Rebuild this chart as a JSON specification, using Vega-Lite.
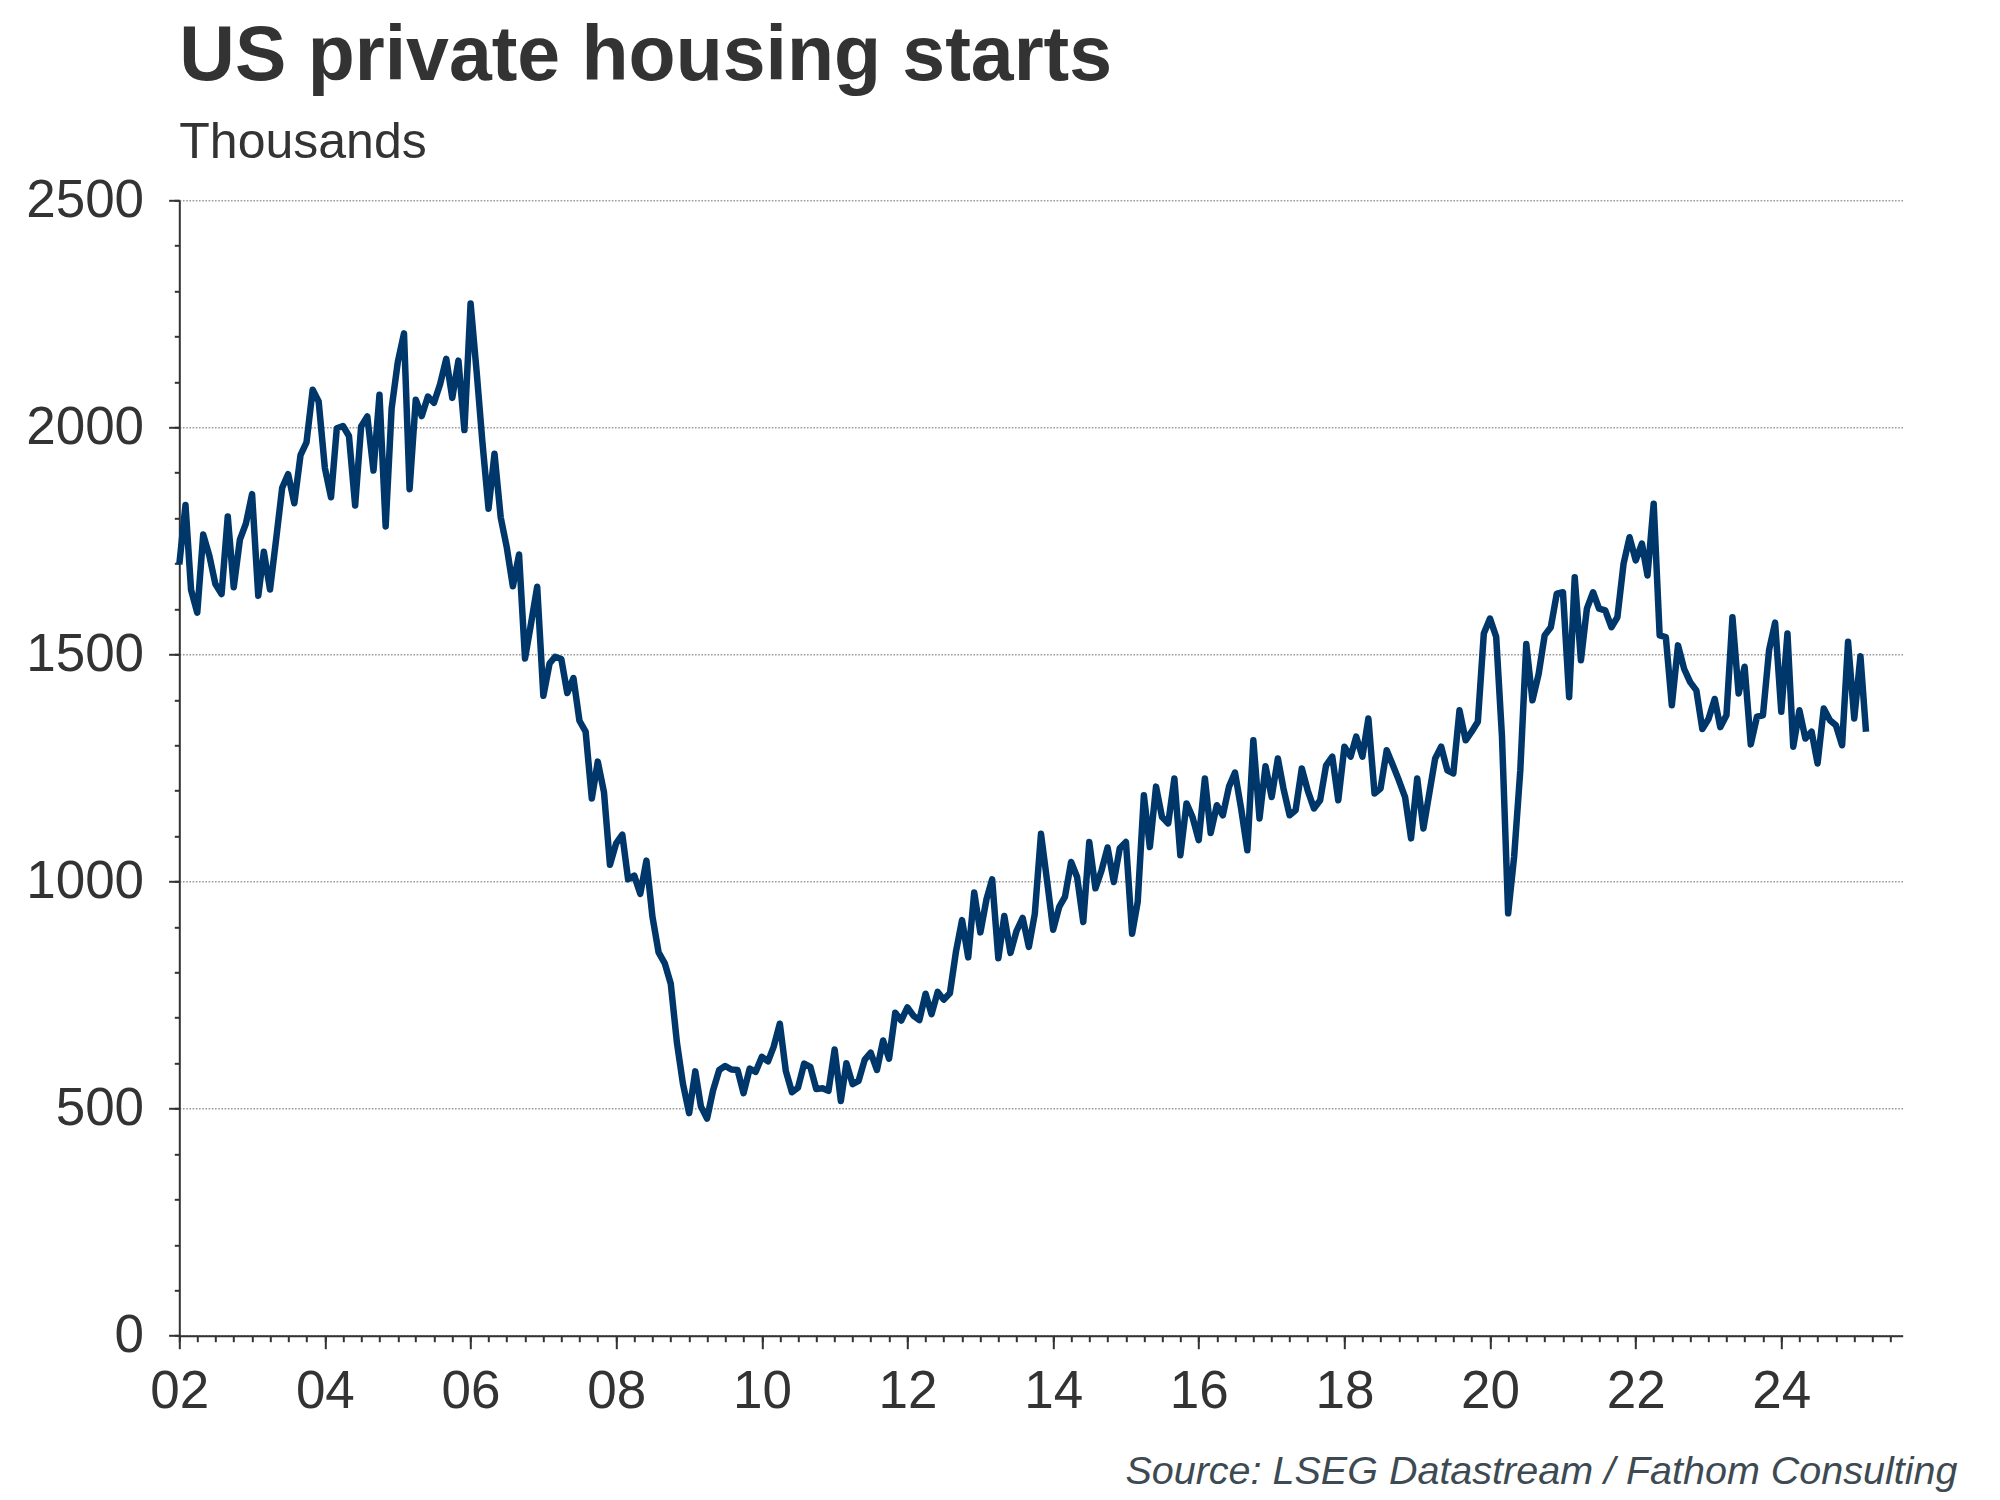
{
  "$schema": "https://vega.github.io/schema/vega-lite/v6.json",
  "width": 1723.4,
  "height": 1135.4,
  "autosize": {"type": "none"},
  "padding": {"left": 179.3, "top": 200.3, "right": 97.3, "bottom": 164.3},
  "background": "#ffffff",
  "config": {
    "view": {"stroke": null},
    "font": "Liberation Sans",
    "axis": {"labelFont": "Liberation Sans", "titleFont": "Liberation Sans", "domainColor": "#333333", "tickColor": "#333333", "labelColor": "#333333", "domainWidth": 2, "tickWidth": 2}
  },
  "title": {"text": "US private housing starts", "subtitle": "Thousands", "anchor": "start", "frame": "group", "orient": "top", "font": "Liberation Sans", "fontSize": 77, "fontWeight": "bold", "color": "#333333", "subtitleFont": "Liberation Sans", "subtitleFontSize": 50, "subtitleColor": "#333333", "subtitlePadding": 22, "offset": 5},
  "data": {"values": [
{"date":"2002-01-01","starts":1698},{"date":"2002-02-01","starts":1829},{"date":"2002-03-01","starts":1642},{"date":"2002-04-01","starts":1592},{"date":"2002-05-01","starts":1764},{"date":"2002-06-01","starts":1717},{"date":"2002-07-01","starts":1655},{"date":"2002-08-01","starts":1633},{"date":"2002-09-01","starts":1804},{"date":"2002-10-01","starts":1648},{"date":"2002-11-01","starts":1753},{"date":"2002-12-01","starts":1788},
{"date":"2003-01-01","starts":1853},{"date":"2003-02-01","starts":1629},{"date":"2003-03-01","starts":1726},{"date":"2003-04-01","starts":1643},{"date":"2003-05-01","starts":1751},{"date":"2003-06-01","starts":1867},{"date":"2003-07-01","starts":1897},{"date":"2003-08-01","starts":1833},{"date":"2003-09-01","starts":1939},{"date":"2003-10-01","starts":1967},{"date":"2003-11-01","starts":2083},{"date":"2003-12-01","starts":2057},
{"date":"2004-01-01","starts":1911},{"date":"2004-02-01","starts":1846},{"date":"2004-03-01","starts":1998},{"date":"2004-04-01","starts":2003},{"date":"2004-05-01","starts":1981},{"date":"2004-06-01","starts":1828},{"date":"2004-07-01","starts":2002},{"date":"2004-08-01","starts":2024},{"date":"2004-09-01","starts":1905},{"date":"2004-10-01","starts":2072},{"date":"2004-11-01","starts":1782},{"date":"2004-12-01","starts":2042},
{"date":"2005-01-01","starts":2144},{"date":"2005-02-01","starts":2207},{"date":"2005-03-01","starts":1864},{"date":"2005-04-01","starts":2061},{"date":"2005-05-01","starts":2025},{"date":"2005-06-01","starts":2068},{"date":"2005-07-01","starts":2054},{"date":"2005-08-01","starts":2095},{"date":"2005-09-01","starts":2151},{"date":"2005-10-01","starts":2065},{"date":"2005-11-01","starts":2147},{"date":"2005-12-01","starts":1994},
{"date":"2006-01-01","starts":2273},{"date":"2006-02-01","starts":2119},{"date":"2006-03-01","starts":1969},{"date":"2006-04-01","starts":1821},{"date":"2006-05-01","starts":1942},{"date":"2006-06-01","starts":1802},{"date":"2006-07-01","starts":1737},{"date":"2006-08-01","starts":1650},{"date":"2006-09-01","starts":1720},{"date":"2006-10-01","starts":1491},{"date":"2006-11-01","starts":1570},{"date":"2006-12-01","starts":1649},
{"date":"2007-01-01","starts":1409},{"date":"2007-02-01","starts":1480},{"date":"2007-03-01","starts":1495},{"date":"2007-04-01","starts":1490},{"date":"2007-05-01","starts":1415},{"date":"2007-06-01","starts":1448},{"date":"2007-07-01","starts":1354},{"date":"2007-08-01","starts":1330},{"date":"2007-09-01","starts":1183},{"date":"2007-10-01","starts":1264},{"date":"2007-11-01","starts":1197},{"date":"2007-12-01","starts":1037},
{"date":"2008-01-01","starts":1084},{"date":"2008-02-01","starts":1103},{"date":"2008-03-01","starts":1005},{"date":"2008-04-01","starts":1013},{"date":"2008-05-01","starts":973},{"date":"2008-06-01","starts":1046},{"date":"2008-07-01","starts":923},{"date":"2008-08-01","starts":844},{"date":"2008-09-01","starts":820},{"date":"2008-10-01","starts":775},{"date":"2008-11-01","starts":645},{"date":"2008-12-01","starts":555},
{"date":"2009-01-01","starts":490},{"date":"2009-02-01","starts":582},{"date":"2009-03-01","starts":505},{"date":"2009-04-01","starts":478},{"date":"2009-05-01","starts":540},{"date":"2009-06-01","starts":585},{"date":"2009-07-01","starts":594},{"date":"2009-08-01","starts":586},{"date":"2009-09-01","starts":585},{"date":"2009-10-01","starts":534},{"date":"2009-11-01","starts":588},{"date":"2009-12-01","starts":581},
{"date":"2010-01-01","starts":614},{"date":"2010-02-01","starts":604},{"date":"2010-03-01","starts":636},{"date":"2010-04-01","starts":687},{"date":"2010-05-01","starts":583},{"date":"2010-06-01","starts":536},{"date":"2010-07-01","starts":546},{"date":"2010-08-01","starts":599},{"date":"2010-09-01","starts":592},{"date":"2010-10-01","starts":543},{"date":"2010-11-01","starts":545},{"date":"2010-12-01","starts":539},
{"date":"2011-01-01","starts":630},{"date":"2011-02-01","starts":517},{"date":"2011-03-01","starts":600},{"date":"2011-04-01","starts":554},{"date":"2011-05-01","starts":561},{"date":"2011-06-01","starts":608},{"date":"2011-07-01","starts":623},{"date":"2011-08-01","starts":585},{"date":"2011-09-01","starts":650},{"date":"2011-10-01","starts":610},{"date":"2011-11-01","starts":711},{"date":"2011-12-01","starts":694},
{"date":"2012-01-01","starts":723},{"date":"2012-02-01","starts":704},{"date":"2012-03-01","starts":695},{"date":"2012-04-01","starts":753},{"date":"2012-05-01","starts":708},{"date":"2012-06-01","starts":757},{"date":"2012-07-01","starts":740},{"date":"2012-08-01","starts":754},{"date":"2012-09-01","starts":847},{"date":"2012-10-01","starts":915},{"date":"2012-11-01","starts":833},{"date":"2012-12-01","starts":976},
{"date":"2013-01-01","starts":888},{"date":"2013-02-01","starts":962},{"date":"2013-03-01","starts":1005},{"date":"2013-04-01","starts":831},{"date":"2013-05-01","starts":924},{"date":"2013-06-01","starts":843},{"date":"2013-07-01","starts":891},{"date":"2013-08-01","starts":920},{"date":"2013-09-01","starts":856},{"date":"2013-10-01","starts":929},{"date":"2013-11-01","starts":1105},{"date":"2013-12-01","starts":1003},
{"date":"2014-01-01","starts":894},{"date":"2014-02-01","starts":945},{"date":"2014-03-01","starts":966},{"date":"2014-04-01","starts":1043},{"date":"2014-05-01","starts":1010},{"date":"2014-06-01","starts":911},{"date":"2014-07-01","starts":1087},{"date":"2014-08-01","starts":985},{"date":"2014-09-01","starts":1025},{"date":"2014-10-01","starts":1075},{"date":"2014-11-01","starts":999},{"date":"2014-12-01","starts":1073},
{"date":"2015-01-01","starts":1087},{"date":"2015-02-01","starts":885},{"date":"2015-03-01","starts":955},{"date":"2015-04-01","starts":1190},{"date":"2015-05-01","starts":1076},{"date":"2015-06-01","starts":1209},{"date":"2015-07-01","starts":1142},{"date":"2015-08-01","starts":1128},{"date":"2015-09-01","starts":1227},{"date":"2015-10-01","starts":1058},{"date":"2015-11-01","starts":1172},{"date":"2015-12-01","starts":1142},
{"date":"2016-01-01","starts":1091},{"date":"2016-02-01","starts":1227},{"date":"2016-03-01","starts":1107},{"date":"2016-04-01","starts":1168},{"date":"2016-05-01","starts":1146},{"date":"2016-06-01","starts":1209},{"date":"2016-07-01","starts":1240},{"date":"2016-08-01","starts":1160},{"date":"2016-09-01","starts":1069},{"date":"2016-10-01","starts":1311},{"date":"2016-11-01","starts":1139},{"date":"2016-12-01","starts":1254},
{"date":"2017-01-01","starts":1186},{"date":"2017-02-01","starts":1271},{"date":"2017-03-01","starts":1205},{"date":"2017-04-01","starts":1146},{"date":"2017-05-01","starts":1157},{"date":"2017-06-01","starts":1249},{"date":"2017-07-01","starts":1200},{"date":"2017-08-01","starts":1161},{"date":"2017-09-01","starts":1179},{"date":"2017-10-01","starts":1256},{"date":"2017-11-01","starts":1275},{"date":"2017-12-01","starts":1179},
{"date":"2018-01-01","starts":1297},{"date":"2018-02-01","starts":1275},{"date":"2018-03-01","starts":1319},{"date":"2018-04-01","starts":1275},{"date":"2018-05-01","starts":1359},{"date":"2018-06-01","starts":1194},{"date":"2018-07-01","starts":1205},{"date":"2018-08-01","starts":1289},{"date":"2018-09-01","starts":1256},{"date":"2018-10-01","starts":1223},{"date":"2018-11-01","starts":1186},{"date":"2018-12-01","starts":1095},
{"date":"2019-01-01","starts":1227},{"date":"2019-02-01","starts":1117},{"date":"2019-03-01","starts":1190},{"date":"2019-04-01","starts":1271},{"date":"2019-05-01","starts":1297},{"date":"2019-06-01","starts":1245},{"date":"2019-07-01","starts":1238},{"date":"2019-08-01","starts":1377},{"date":"2019-09-01","starts":1311},{"date":"2019-10-01","starts":1330},{"date":"2019-11-01","starts":1352},{"date":"2019-12-01","starts":1546},
{"date":"2020-01-01","starts":1579},{"date":"2020-02-01","starts":1539},{"date":"2020-03-01","starts":1320},{"date":"2020-04-01","starts":930},{"date":"2020-05-01","starts":1054},{"date":"2020-06-01","starts":1245},{"date":"2020-07-01","starts":1523},{"date":"2020-08-01","starts":1399},{"date":"2020-09-01","starts":1457},{"date":"2020-10-01","starts":1542},{"date":"2020-11-01","starts":1560},{"date":"2020-12-01","starts":1634},
{"date":"2021-01-01","starts":1637},{"date":"2021-02-01","starts":1406},{"date":"2021-03-01","starts":1670},{"date":"2021-04-01","starts":1487},{"date":"2021-05-01","starts":1601},{"date":"2021-06-01","starts":1637},{"date":"2021-07-01","starts":1601},{"date":"2021-08-01","starts":1597},{"date":"2021-09-01","starts":1560},{"date":"2021-10-01","starts":1582},{"date":"2021-11-01","starts":1700},{"date":"2021-12-01","starts":1758},
{"date":"2022-01-01","starts":1707},{"date":"2022-02-01","starts":1744},{"date":"2022-03-01","starts":1674},{"date":"2022-04-01","starts":1832},{"date":"2022-05-01","starts":1542},{"date":"2022-06-01","starts":1538},{"date":"2022-07-01","starts":1388},{"date":"2022-08-01","starts":1520},{"date":"2022-09-01","starts":1468},{"date":"2022-10-01","starts":1439},{"date":"2022-11-01","starts":1421},{"date":"2022-12-01","starts":1336},
{"date":"2023-01-01","starts":1358},{"date":"2023-02-01","starts":1402},{"date":"2023-03-01","starts":1340},{"date":"2023-04-01","starts":1366},{"date":"2023-05-01","starts":1582},{"date":"2023-06-01","starts":1414},{"date":"2023-07-01","starts":1473},{"date":"2023-08-01","starts":1302},{"date":"2023-09-01","starts":1363},{"date":"2023-10-01","starts":1366},{"date":"2023-11-01","starts":1510},{"date":"2023-12-01","starts":1570},
{"date":"2024-01-01","starts":1374},{"date":"2024-02-01","starts":1546},{"date":"2024-03-01","starts":1297},{"date":"2024-04-01","starts":1377},{"date":"2024-05-01","starts":1315},{"date":"2024-06-01","starts":1330},{"date":"2024-07-01","starts":1260},{"date":"2024-08-01","starts":1381},{"date":"2024-09-01","starts":1355},{"date":"2024-10-01","starts":1344},{"date":"2024-11-01","starts":1300},{"date":"2024-12-01","starts":1528},
{"date":"2025-01-01","starts":1359},{"date":"2025-02-01","starts":1496},{"date":"2025-03-01","starts":1330}
  ]},
  "layer": [
    {
      "mark": {"type": "line", "opacity": 0},
      "encoding": {
        "x": {"field": "date", "type": "temporal",
          "scale": {"type": "utc", "domain": [{"year": 2002, "month": 1, "date": 1, "utc": true}, {"year": 2025, "month": 9, "date": 1, "utc": true}]},
          "axis": {"orient": "bottom", "tickCount": {"interval": "month", "step": 3}, "tickSize": 6, "labels": false, "domain": false, "grid": false, "title": null}},
        "y": {"field": "starts", "type": "quantitative",
          "scale": {"domain": [0, 2500], "nice": false, "zero": true},
          "axis": {"orient": "left", "values": [0,100,200,300,400,500,600,700,800,900,1000,1100,1200,1300,1400,1500,1600,1700,1800,1900,2000,2100,2200,2300,2400,2500], "tickSize": 5, "labels": false, "domain": false, "grid": false, "title": null}}
      }
    },
    {
      "mark": {"type": "line", "color": "#00376b", "strokeWidth": 6.5, "strokeJoin": "round"},
      "encoding": {
        "x": {"field": "date", "type": "temporal",
          "scale": {"type": "utc", "domain": [{"year": 2002, "month": 1, "date": 1, "utc": true}, {"year": 2025, "month": 9, "date": 1, "utc": true}]},
          "axis": {"orient": "bottom", "tickCount": {"interval": "year", "step": 2}, "format": "%y", "tickSize": 13, "labelFontSize": 53, "labelPadding": 17, "labelFlush": false, "labelOverlap": false, "grid": false,
            "title": "Source: LSEG Datastream / Fathom Consulting", "titleFontSize": 39.5, "titleFontStyle": "italic", "titleFontWeight": "normal", "titleColor": "#3d4a52", "titleAlign": "right", "titleAnchor": "end", "titleX": 1777.7, "titleY": 147.6, "titleBaseline": "alphabetic"}},
        "y": {"field": "starts", "type": "quantitative",
          "scale": {"domain": [0, 2500], "nice": false, "zero": true},
          "axis": {"orient": "left", "values": [0, 500, 1000, 1500, 2000, 2500], "format": "d", "tickSize": 10.7, "labelFontSize": 53, "labelPadding": 25, "labelFlush": false, "grid": true, "gridColor": "#999999", "gridDash": [1.6, 1.6], "gridWidth": 1.6, "title": null}}
      }
    }
  ],
  "resolve": {"axis": {"x": "independent", "y": "independent"}}
}
